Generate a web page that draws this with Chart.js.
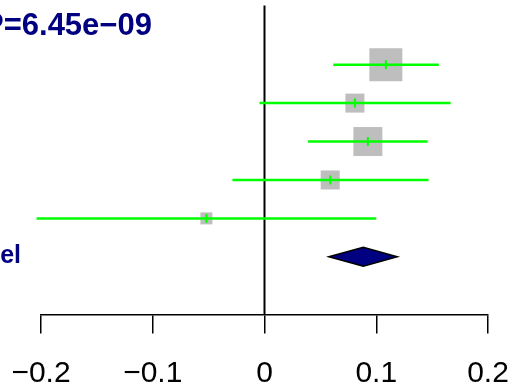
<!DOCTYPE html>
<html>
<head>
<meta charset="utf-8">
<script src="https://cdn.jsdelivr.net/npm/chart.js@4/dist/chart.umd.min.js"></script>
<style>
  html, body { margin: 0; padding: 0; background: #fff; }
  canvas { display: block; }
</style>
</head>
<body>
<canvas id="forestChart" width="511" height="390"></canvas>
<script>
// study rows, top to bottom
const rows = [1, 2, 3, 4, 5];
const estimates = [0.1086, 0.0809, 0.0925, 0.0588, -0.052];
const lower = [0.0615, -0.0045, 0.039, -0.0287, -0.204];
const upper = [0.156, 0.1665, 0.146, 0.1468, 0.100];
const weights = [33, 19, 29, 19, 12]; // relative box sizes

// pooled estimate (diamond)
const summaryRow = 6;
const summaryEst = 0.0884;
const summaryLower = 0.0576;
const summaryUpper = 0.1188;

const tickValues = [-0.2, -0.1, 0, 0.1, 0.2];
const tickLabels = ['\u22120.2', '\u22120.1', '0', '0.1', '0.2'];

const pText = 'P=6.45e\u221209';
const summaryLabel = 'Model';

const FONT = "'Liberation Sans', Arial, Helvetica, sans-serif";
const GREEN = '#00FF00';
const NAVY = '#000080';

const ciSets = rows.map((r, i) => ({
    type: 'line',
    data: [{ x: lower[i], y: r }, { x: upper[i], y: r }],
    borderColor: GREEN,
    borderWidth: 2.5,
    pointRadius: 0,
    clip: false,
    order: 2
}));

const overlay = {
    id: 'overlay',
    afterDatasetsDraw(chart) {
        const ctx = chart.ctx;
        const xs = chart.scales.x;
        const ys = chart.scales.y;
        // summary diamond
        const yc = ys.getPixelForValue(summaryRow);
        const h = 9.5;
        ctx.save();
        ctx.beginPath();
        ctx.moveTo(xs.getPixelForValue(summaryLower), yc);
        ctx.lineTo(xs.getPixelForValue(summaryEst), yc - h);
        ctx.lineTo(xs.getPixelForValue(summaryUpper), yc);
        ctx.lineTo(xs.getPixelForValue(summaryEst), yc + h);
        ctx.closePath();
        ctx.fillStyle = NAVY;
        ctx.fill();
        ctx.lineWidth = 1.5;
        ctx.strokeStyle = '#000';
        ctx.stroke();

        // texts
        ctx.fillStyle = NAVY;
        ctx.font = 'bold 31px ' + FONT;
        ctx.textAlign = 'left';
        ctx.textBaseline = 'alphabetic';
        ctx.fillText(pText, -17, 35);
        ctx.font = 'bold 25px ' + FONT;
        ctx.textAlign = 'right';
        ctx.fillText(summaryLabel, 21, yc + 6.5);
        ctx.restore();
    }
};

new Chart(document.getElementById('forestChart').getContext('2d'), {
    type: 'scatter',
    data: {
        datasets: [
            {
                // vertical line at zero
                type: 'line',
                data: [{ x: 0, y: -0.54 }, { x: 0, y: 7.5 }],
                borderColor: '#000',
                borderWidth: 2,
                pointRadius: 0,
                clip: false,
                order: 5
            },
            {
                // weight boxes
                data: rows.map((r, i) => ({ x: estimates[i], y: r })),
                pointStyle: 'rect',
                pointRadius: weights.map(w => w / 1.4142),
                backgroundColor: '#BEBEBE',
                borderWidth: 0,
                clip: false,
                order: 4
            },
            ...ciSets,
            {
                // point estimate marks
                data: rows.map((r, i) => ({ x: estimates[i], y: r })),
                pointStyle: 'line',
                rotation: 90,
                pointRadius: 4.5,
                borderColor: GREEN,
                borderWidth: 2,
                clip: false,
                order: 1
            }
        ]
    },
    options: {
        responsive: false,
        animation: false,
        events: [],
        layout: { autoPadding: false, padding: { left: 41, right: 23, top: 7, bottom: 0 } },
        plugins: {
            legend: { display: false },
            tooltip: { enabled: false }
        },
        scales: {
            x: {
                type: 'linear',
                min: -0.2,
                max: 0.2,
                afterBuildTicks: axis => {
                    axis.ticks = tickValues.map(v => ({ value: v }));
                },
                afterFit: axis => {
                    axis.height = 75.5;
                    axis.paddingLeft = 0;
                    axis.paddingRight = 0;
                },
                ticks: {
                    callback: (v, i) => tickLabels[i],
                    color: '#000',
                    font: { family: FONT, size: 30 },
                    padding: 22.5,
                    maxRotation: 0,
                    autoSkip: false
                },
                grid: {
                    drawOnChartArea: false,
                    drawTicks: true,
                    tickLength: 19,
                    color: '#000',
                    lineWidth: 1.5
                },
                border: { display: true, color: '#000', width: 1.5 }
            },
            y: {
                type: 'linear',
                reverse: true,
                min: -0.5,
                max: 7.5,
                display: false
            }
        }
    },
    plugins: [overlay]
});
</script>
</body>
</html>
